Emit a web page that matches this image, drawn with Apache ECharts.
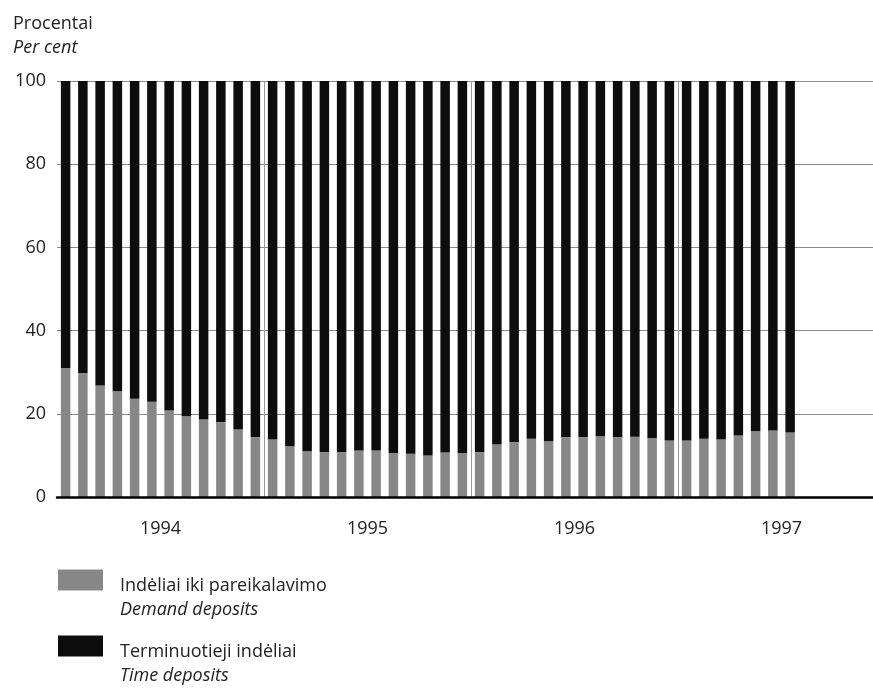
<!DOCTYPE html>
<html><head><meta charset="utf-8">
<script src="https://cdn.jsdelivr.net/npm/echarts@6/dist/echarts.min.js"></script>
<style>html,body{margin:0;padding:0;background:#fff;overflow:hidden;width:873px;height:692px}#c{width:886px;height:692px}</style>
</head><body><div id="c"></div>
<script>
const months = [
 '1994-01','1994-02','1994-03','1994-04','1994-05','1994-06','1994-07','1994-08','1994-09','1994-10','1994-11','1994-12',
 '1995-01','1995-02','1995-03','1995-04','1995-05','1995-06','1995-07','1995-08','1995-09','1995-10','1995-11','1995-12',
 '1996-01','1996-02','1996-03','1996-04','1996-05','1996-06','1996-07','1996-08','1996-09','1996-10','1996-11','1996-12',
 '1997-01','1997-02','1997-03','1997-04','1997-05','1997-06','1997-07','1997-08','1997-09','1997-10','1997-11','1997-12'
];
const yearLabels = ['1994','1995','1996','1997'];
const seriesNames = ['Indėliai iki pareikalavimo','Terminuotieji indėliai'];
const seriesNamesEn = ['Demand deposits','Time deposits'];
const demandDeposits = [
 31.0,29.8,26.8,25.4,23.6,22.9,20.8,19.4,18.6,18.0,16.2,14.4,
 13.8,12.2,11.0,10.8,10.8,11.2,11.2,10.6,10.4,10.0,10.7,10.5,
 10.8,12.6,13.2,14.0,13.4,14.4,14.4,14.6,14.4,14.5,14.2,13.6,
 13.6,14.0,13.8,14.8,15.8,16.0,15.5
];
const timeDeposits = [
 69.0,70.2,73.2,74.6,76.4,77.1,79.2,80.6,81.4,82.0,83.8,85.6,
 86.2,87.8,89.0,89.2,89.2,88.8,88.8,89.4,89.6,90.0,89.3,89.5,
 89.2,87.4,86.8,86.0,86.6,85.6,85.6,85.4,85.6,85.5,85.8,86.4,
 86.4,86.0,86.2,85.2,84.2,84.0,84.5
];
const yMin = 0, yMax = 100, yStep = 20;

const FF = '"Open Sans", sans-serif';
const TXT = '#222';
const chart = echarts.init(document.getElementById('c'), null, {renderer: 'canvas'});

function legendFor(i, top) {
  return {
    data: [seriesNames[i]],
    left: 58, top: top, orient: 'vertical', padding: 0,
    itemWidth: 45, itemHeight: 21, icon: 'rect', selectedMode: false,
    formatter: function (n) { return '{g| }\n{a|' + n + '}\n{b|' + seriesNamesEn[i] + '}'; },
    textStyle: {
      rich: {
        g: {fontSize: 18, lineHeight: 36, fontFamily: FF},
        a: {fontSize: 18, lineHeight: 24, fontFamily: FF, color: TXT, padding: [0, 0, 0, 12]},
        b: {fontSize: 18, lineHeight: 24, fontFamily: FF, color: TXT, fontStyle: 'italic', padding: [0, 0, 0, 12]}
      }
    }
  };
}

chart.setOption({
  animation: false,
  backgroundColor: '#fff',
  title: {
    text: 'Procentai', subtext: 'Per cent', left: 13, top: 12, padding: 0, itemGap: 0,
    textStyle: {fontSize: 18, fontWeight: 'normal', color: TXT, lineHeight: 24, fontFamily: FF},
    subtextStyle: {fontSize: 18, fontStyle: 'italic', color: TXT, lineHeight: 24, fontFamily: FF}
  },
  legend: [legendFor(0, 547), legendFor(1, 613)],
  grid: {left: 57, top: 81, right: 1, height: 416, containLabel: false},
  xAxis: [
    {
      type: 'category', data: months, boundaryGap: true, z: 3,
      axisLine: {show: true, lineStyle: {color: '#000', width: 2.5}},
      axisTick: {show: false}, axisLabel: {show: false}, splitLine: {show: false}
    },
    {
      type: 'category', data: yearLabels, boundaryGap: true, position: 'bottom',
      axisLine: {show: false}, axisTick: {show: false},
      axisLabel: {margin: 23, fontSize: 18, color: TXT, fontFamily: FF},
      splitLine: {show: true, interval: function (i) { return i > 0; }, lineStyle: {color: '#999', width: 1}}
    }
  ],
  yAxis: {
    type: 'value', min: yMin, max: yMax, interval: yStep,
    axisLine: {show: false}, axisTick: {show: false},
    axisLabel: {margin: 11, fontSize: 18, color: TXT, fontFamily: FF},
    splitLine: {show: true, lineStyle: {color: '#8a8a8a', width: 1}}
  },
  series: [
    {name: seriesNames[0], type: 'bar', stack: 'total', xAxisIndex: 0, barWidth: 9.5,
     itemStyle: {color: '#878787'}, data: demandDeposits},
    {name: seriesNames[1], type: 'bar', stack: 'total', xAxisIndex: 0, barWidth: 9.5,
     itemStyle: {color: '#0d0d0d'}, data: timeDeposits}
  ]
});
</script></body></html>
